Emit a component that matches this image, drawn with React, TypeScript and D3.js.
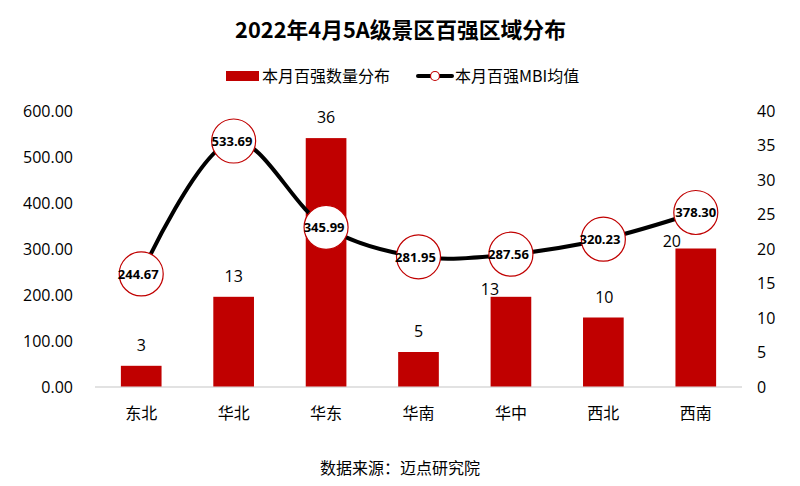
import React from "react";
import * as d3 from "d3";

const categories = ["东北", "华北", "华东", "华南", "华中", "西北", "西南"];
const counts = [3, 13, 36, 5, 13, 10, 20];
const mbi = [244.67, 533.69, 345.99, 281.95, 287.56, 320.23, 378.3];
const leftTicks = [0, 100, 200, 300, 400, 500, 600];
const rightTicks = [0, 5, 10, 15, 20, 25, 30, 35, 40];
const countLabelShift = [[0, 0], [0, 0], [0, 0], [0, 0], [-21, 13], [1, 0], [-24, 13]];
const mbiLabelShift = [-3, -1.6, -2, -3, -2.4, -3.4, 0];
const FONT = "'Noto Sans CJK SC','Open Sans',sans-serif";
const LATIN = "'Open Sans','Noto Sans CJK SC',sans-serif";
const RED = "#C00000";

export default function App() {
  const x = d3.scaleBand<string>().domain(categories).range([95, 742]);
  const yL = d3.scaleLinear().domain([0, 600]).range([386.5, 110.5]);
  const yR = d3.scaleLinear().domain([0, 40]).range([386.5, 110.5]);
  const cx = (c: string) => x(c)! + x.bandwidth() / 2;
  const line = d3
    .line<number>()
    .x((_, i) => cx(categories[i]))
    .y((d) => yL(d))
    .curve(d3.curveCatmullRom.alpha(0.5));
  const barW = x.bandwidth() * 0.44;
  return (
    <svg width={800} height={486} style={{ position: "absolute", left: 0, top: 0, background: "#fff" }}>
      <text x={400.5} y={38} textAnchor="middle" fontFamily={FONT} fontWeight={700} fontSize={21.8} fill="#000">
        2022年4月5A级景区百强区域分布
      </text>
      <rect x={226} y={71} width={33} height={10} fill={RED} />
      <text x={262} y={81.5} fontFamily={FONT} fontSize={16} fill="#000">本月百强数量分布</text>
      <line x1={418} x2={452} y1={76} y2={76} stroke="#000" strokeWidth={4} strokeLinecap="round" />
      <circle cx={435} cy={76} r={4.5} fill="#fff" stroke={RED} strokeWidth={1.2} />
      <text x={455} y={81.5} fontFamily={FONT} fontSize={16} fill="#000">本月百强MBI均值</text>
      {leftTicks.map((t) => (
        <text key={t} x={73} y={yL(t) + 6} textAnchor="end" fontFamily={LATIN} fontSize={16} fill="#000">
          {d3.format(".2f")(t)}
        </text>
      ))}
      {rightTicks.map((t) => (
        <text key={t} x={757} y={yR(t) + 6} fontFamily={LATIN} fontSize={16} fill="#000">{t}</text>
      ))}
      <line x1={95} x2={742} y1={387} y2={387} stroke="#D9D9D9" strokeWidth={1.5} />
      {categories.map((c, i) => (
        <g key={c}>
          <rect x={cx(c) - barW / 2} y={yR(counts[i])} width={barW} height={386.5 - yR(counts[i])} fill={RED} />
          <text x={cx(c)} y={419} textAnchor="middle" fontFamily={FONT} fontSize={16} fill="#000">{c}</text>
        </g>
      ))}
      <path d={line(mbi) ?? ""} fill="none" stroke="#000" strokeWidth={4} strokeLinecap="round" />
      {categories.map((c, i) => (
        <g key={c}>
          <circle cx={cx(c)} cy={yL(mbi[i])} r={22} fill="#fff" stroke={RED} strokeWidth={1.2} />
          <text x={cx(c) + mbiLabelShift[i]} y={yL(mbi[i]) + 4.7} textAnchor="middle" fontFamily={LATIN} fontWeight={700} fontSize={13} fill="#000">
            {d3.format(".2f")(mbi[i])}
          </text>
        </g>
      ))}
      {categories.map((c, i) => (
        <text key={c} x={cx(c) + countLabelShift[i][0]} y={yR(counts[i]) - 15 + countLabelShift[i][1]} textAnchor="middle" fontFamily={LATIN} fontSize={16} fill="#000">{counts[i]}</text>
      ))}
      <text x={400} y={474} textAnchor="middle" fontFamily={FONT} fontSize={16} fill="#000">数据来源：迈点研究院</text>
    </svg>
  );
}
